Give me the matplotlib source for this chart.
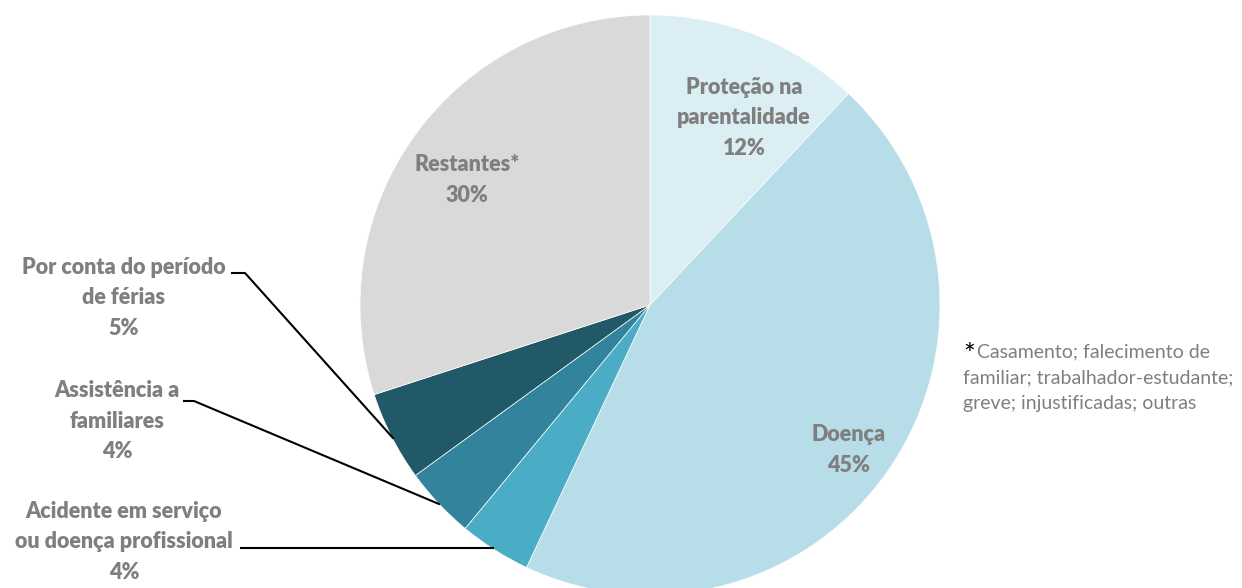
import matplotlib.pyplot as plt

categorias = ["Proteção na\nparentalidade", "Doença", "Acidente em serviço\nou doença profissional",
              "Assistência a\nfamiliares", "Por conta do período\nde férias", "Restantes*"]
valores = [12, 45, 4, 4, 5, 30]
cores = ["#DAEEF3", "#B7DDE8", "#4BACC6", "#31849B", "#215968", "#D9D9D9"]

# label positions in pixel coordinates (x, y from top)
pos_labels = [(744, 118), (849, 450), (124, 542), (117, 421), (124, 298), (467, 180)]

cinza = "#7F7F7F"
plt.rcParams['font.family'] = ['Lato', 'DejaVu Sans']

fig = plt.figure(figsize=(12.42, 5.88), dpi=100)
ax = fig.add_axes([0, 0, 1, 1])

# y axis is inverted, so counterclock in data space runs clockwise on screen
ax.pie(valores, colors=cores, startangle=-90, counterclock=True,
       center=(650, 305), radius=290, frame=True,
       wedgeprops=dict(linewidth=0.5, edgecolor='white'))
ax.set_xlim(0, 1242)
ax.set_ylim(588, 0)
ax.set_aspect('equal')
ax.axis('off')

for nome, v, (x, y) in zip(categorias, valores, pos_labels):
    ax.text(x, y, f"{nome}\n{v}%", ha='center', va='center', fontsize=15.5,
            fontweight='heavy', color=cinza, linespacing=1.55)

# leader lines for the small slices
linhas = [
    [(232, 273), (245, 273), (393, 438)],
    [(184, 401), (194, 401), (439, 504)],
    [(241, 548), (493, 548)],
]
for pts in linhas:
    xs, ys = zip(*pts)
    ax.plot(xs, ys, color='black', linewidth=1.5)

# footnote for "Restantes"
ax.text(963, 356, "*", fontsize=20, color='black', ha='left', va='center')
ax.text(977, 352, "Casamento; falecimento de", fontsize=14, color=cinza, ha='left', va='center')
ax.text(963, 378, "familiar; trabalhador-estudante;", fontsize=14, color=cinza, ha='left', va='center')
ax.text(963, 404, "greve; injustificadas; outras", fontsize=14, color=cinza, ha='left', va='center')

fig.savefig("out.png", dpi=100)
